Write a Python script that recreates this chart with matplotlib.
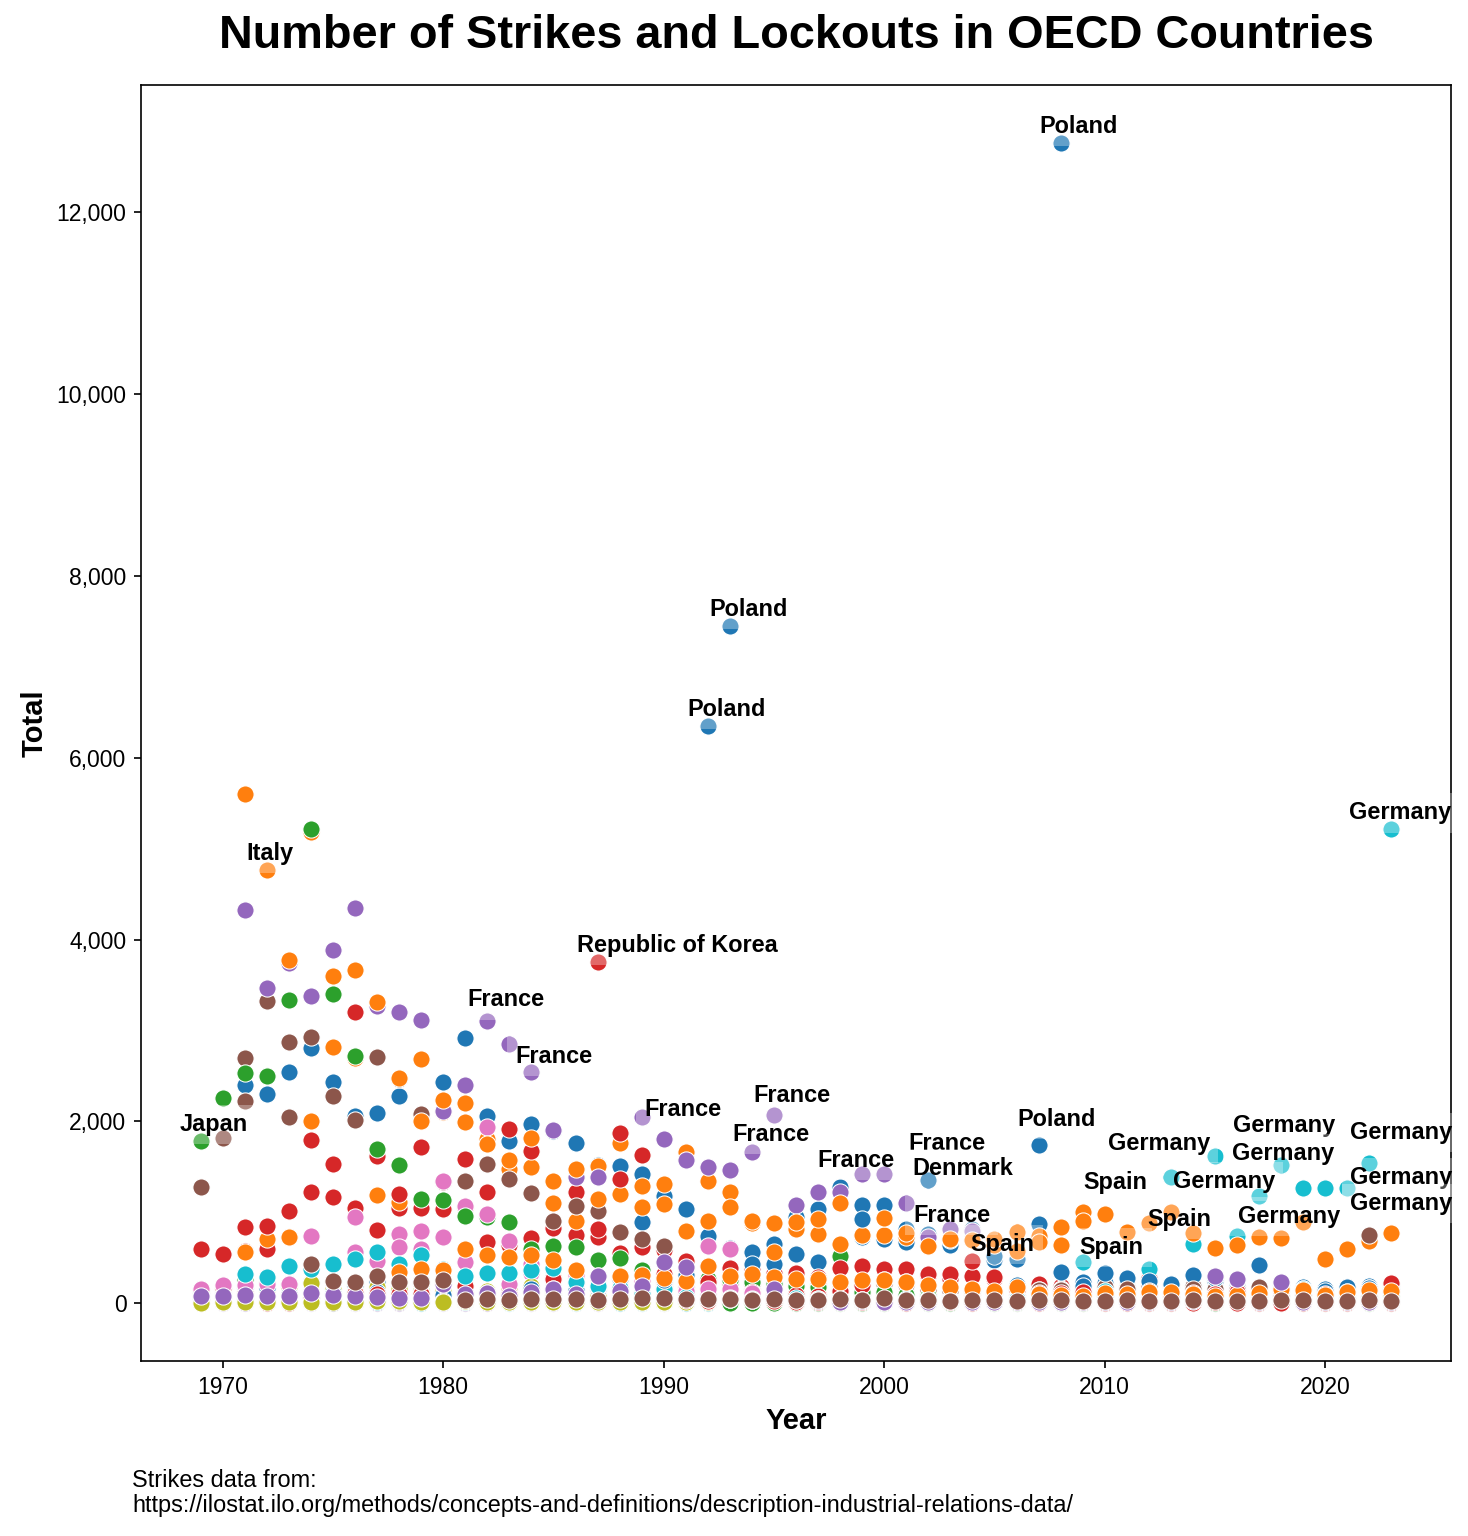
import matplotlib
matplotlib.use("Agg")
import matplotlib.pyplot as plt
from matplotlib.ticker import FuncFormatter

plt.rcParams["font.family"] = ["Liberation Sans", "DejaVu Sans"]

# (first year, yearly number of strikes and lockouts), drawn in this order
australia = (1971, [2400, 2300, 2540, 2810, 2430, 2055, 2090, 2280, 2040, 2430,
                    2915, 2060, 1785, 1965, 1895, 1760, 1520, 1510, 1420, 1180,
                    1040, 735, 610, 560, 645, 545, 450, 520, 730, 700,
                    675, 765, 640, 690, 470, 200, 135, 180, 235, 225,
                    190, 200, 205, 185, 240, 185, 155, 160, 180, 155,
                    175, 185, 190])
austria = (1969, [20, 10, 15, 8, 12, 10, 6, 4, 5, 3, 2, 8, 4, 3, 6, 2, 3, 4, 2, 1,
                  3, 2, 1, 2, 0, 1, 0, 2, 1, 0, 0, 1, 2, 1, 3, 0, 1, 2, 0, 1,
                  0, 0, 1, 2, 0, 1, 0, 0, 2, 1, 0, 3, 1, 2, 1])
belgium = (1969, [160, 150, 250, 230, 210, 230, 245, 210, 240, 190,
                  215, 125, 120, 110, 95, 120, 85, 100, 90, 80,
                  75, 70, 60, 65, 55, 50, 45, 40, 60, 520,
                  50, 45, 40, 35, 30, 30, 28, 25, 30, 35,
                  30, 25, 20, 18, 25, 20, 22, 18, 15, 12,
                  10, 15, 14, 12, 16])
canada = (1969, [595, 540, 570, 595, 725, 1220, 1170, 1045, 800, 1050,
                 1050, 1030, 1050, 670, 640, 715, 825, 750, 725, 550,
                 620, 580, 465, 405, 385, 375, 330, 330, 285, 385,
                 410, 375, 380, 295, 265, 300, 260, 150, 205, 185,
                 160, 175, 150, 280, 175, 155, 125, 130, 160, 140,
                 140, 90, 150, 165, 215])
switzerland = (1969, [2, 3, 1, 2, 4, 1, 6, 3, 2, 1, 4, 5, 1, 2, 3, 0, 1, 2, 0, 3,
                      1, 2, 3, 1, 0, 2, 2, 1, 3, 0, 2, 4, 1, 3, 2, 4, 1, 2, 0, 3,
                      2, 1, 0, 2, 1, 3, 2, 1, 0, 1, 2, 1, 3, 2, 1])
chile = (1969, [1275, 1815, 2695, 3325, 2045] + [None] * 16 +
         [176, 224, 247, 224, 196, 187, 183, 179, 121, 108,
          125, 86, 104, 92, 125, 101, 134, 149, 159, 171,
          176, 177, 186, 199, 190, 150, 160, 180, 170, 140,
          110, 130, 150, 160])
colombia = (1985, [60, 55, 70, 85, 70, 75, 100, 95, 80, 60,
                   55, 50, 40, 45, 40, 35, 30, 35, 40, 45,
                   50, 55, 60, 70, 80, 75, 70, 65, 60, 55,
                   60, 65, 70, 60, 55, 50, 40, 45, 50])
costa_rica = (1990, [5, 3, 8, 2, 4, 1, 3, 2, 5, 1, 0, 2, 3, 1, 4, 2, 1, 0, 3, 2,
                     1, 5, 2, 0, 1, 3, 2, 1, 0, 2, 4, 1, 2, 3])
czechia = (1993, [1, 0, 2, 0, 1, 0, 3, 1, 0, 2, 1, 0, 0, 1, 2, 0, 1, 0, 1, 0,
                  2, 1, 0, 0, 1, 0, 2, 1, 0, 1, 0])
germany = (2008, [90, 455, 130, 160, 375, 1385, 650, 1617, 740, 1175,
                  1520, 1265, 1265, 1265, 1540, 5220])
denmark = (1969, [50, 110, 60, 80, 210, 230, 100, 190, 230, 120,
                  240, 220, 90, 120, 85, 360, 240, 210, 140, 270,
                  895, 220, 260, 230, 250, 250, 430, 945, 1035, 1275,
                  1080, 1080, 820, 1350, 690, 815, 520, 480, 870, 340,
                  190, 330, 280, 240, 215, 310, 280, 250, 420, 200,
                  150, 130, 175, 170, 150])
spain = (1971, [560, 700, 725, 2000, 2815, 3662, 1190, 1110, 2680, 2100,
                1990, 1800, 1475, 1500, 1100, 905, 1505, 1200, 1055, 1310,
                1660, 1340, 1220, 880, 880, 815, 760, 650, 750, 750,
                725, 630, 700, 695, 640, 780, 740, 835, 1000, 985,
                780, 880, 1000, 770, 610, 640, 730, 720, 890, 480,
                600, 680, 770])
estonia = (1995, [2, 0, 1, 0, 0, 1, 0, 0, 2, 1, 0, 0, 1, 0, 0, 0, 1, 0, 0, 2,
                  0, 1, 0, 0, 1, 0, 0, 1, 0])
finland = (1969, [5, 10, 835, 850, 1010, 1790, 1530, 3200, 1620, 1200,
                  1715, 1040, 1590, 1220, 1920, 1675, 290, 1225, 815, 1365,
                  300, 190, 180, 170, 120, 150, 100, 110, 95, 80,
                  85, 90, 80, 95, 70, 85, 100, 90, 105, 140,
                  110, 95, 120, 100, 75, 90, 80, 60, 70, 85,
                  90, 40, 60, 80, 120])
france = (1971, [4320, 3470, 3740, 3380, 3885, 4345, 3270, 3200, 3115, 2110,
                 2400, 3100, 2850, 2540, 1900, 1385, 1385, 1875, 2045, 1810,
                 1575, 1495, 1465, 1660, 2065, 1075, 1225, 1225, 1420, 1420,
                 1100, 725, 815, 790])
united_kingdom = (1971, [2225, 2500, 2870, 2925, 2280, 2015, 2705, 2470, 2080, 1330,
                         1340, 1530, 1365, 1210, 900, 1070, 1010, 780, 700, 630,
                         370, 255, 210, 205, 235, 245, 215, 165, 205, 210,
                         195, 145, 135, 130, 115, 160, 140, 145, 100, 90,
                         150, 130, 115, 155, 105, 100, 80, 80, 90, 60,
                         85, 750, 120])
greece = (1976, [950, 300, 760, 790, 1340, 1070, 1935, 680, 330, 250,
                 220, 200, 300, 240, 230, 180, 630, 595, 120, 100,
                 60, 40, 30])
hungary = (1990, [10, 5, 8, 3, 2, 4, 1, 6, 3, 2, 1, 0, 2, 1, 0, 3, 1, 2, 0, 1,
                  0, 1, 2, 0, 1, 0, 0, 1, 2, 0, 1, 0, 1, 0])
ireland = (1969, [135, 135, 135, 130, 180, 220, 150, 135, 175, 150,
                  140, 130, 125, 130, 155, 190, 115, 100, 80, 65,
                  40, 50, 40, 40, 45, 30, 35, 35, 35, 30,
                  30, 40, 25, 25, 20, 15, 10, 10, 10, 10,
                  5, 10, 10, 5, 10, 10, 10, 15, 10, 10,
                  10, 5, 10, 10, 10])
iceland = (1975, [10, 15, 8, 20, 5, 12, 6, 18, 3, 10, 8, 5, 9, 4, 2, 6, 3, 1, 5, 2,
                  8, 3, 1, 0, 4, 2, 1, 3, 0, 2, 1, 0, 1, 3, 2, 1, 0, 2, 4, 1,
                  0, 1, 2, 3, 1, 0, 2, 1, 0])
israel = (1969, [115, 160, 170, 170, 95, 70, 115, 125, 125, 85,
                 115, 85, 90, 115, 100, 150, 130, 140, 160, 155,
                 125, 40, 60, 50, 50, 60, 70, 60, 60, 65,
                 55, 55, 50, 45, 35, 30, 30, 25, 30, 30,
                 25, 20, 30, 25, 30, 35, 25, 20, 25, 30,
                 20, 15, 20, 25, 30])
italy = (1971, [5600, 4760, 3770, 5180, 3600, 2700, 3310, 2475, 2000, 2235,
                2200, 1750, 1570, 1815, 1340, 1475, 1145, 1760, 1290, 1090,
                790, 900, 1055, 900, 560, 890, 925, 1100, 750, 935,
                770, 630, 700, 695, 700, 575, 670, 640, 900])
japan = (1969, [1780, 2260, 2530, 2500, 3330, 5215, 3400, 2720, 1700, 1515,
                1150, 1135, 960, 945, 890, 595, 625, 620, 475, 500,
                360, 285, 310, 260, 250, 230, 210, 190, 180, 145,
                120, 118, 90, 74, 47, 51, 50, 46, 54, 52,
                48, 38, 28, 38, 31, 27, 39, 31, 38, 26,
                49, 57, 55, 65, 75])
korea = (1969, [70, 165, 110, 0, 0, 60, 50, 110, 100, 100,
                105, 205, 185, 90, 100, 115, 265, 275, 3750, 1875,
                1630, 320, 235, 235, 145, 120, 90, 85, 80, 130,
                200, 250, 235, 320, 320, 465, 290, 140, 115, 110,
                120, 85, 65, 105, 72, 110, 105, 120, 100, 135,
                140, 105, 120, 130, 225])
lithuania = (1995, [5, 10, 0, 1, 0, 0, 2, 1, 0, 0, 1, 2, 0, 1, 0, 0, 0, 1, 0, 0,
                    1, 2, 0, 0, 1, 0, 0, 1, 0])
latvia = (1995, [0, 1, 0, 0, 2, 0, 0, 1, 0, 0, 0, 1, 0, 0, 0, 1, 0, 0, 0, 0,
                 1, 0, 0, 0, 1, 0, 0, 0, 0])
mexico = (1969, [150, 200, 200, 210, 210, 740, 235, 560, 460, 615,
                 600, 725, 450, 980, 215, 430, 160, 310, 175, 130,
                 120, 150, 135, 155, 155, 115, 95, 50, 40, 35,
                 30, 25, 35, 45, 45, 40, 50, 55, 30, 20,
                 20, 10, 15, 20, 20, 15, 5, 10, 10, 15,
                 20, 10, 5, 10, 15])
netherlands = (1969, [40, 60, 40, 30, 20, 15, 5, 20, 35, 15,
                      20, 25, 25, 20, 15, 25, 20, 15, 20, 20,
                      15, 25, 20, 20, 15, 20, 15, 20, 15, 10,
                      20, 20, 15, 25, 15, 20, 20, 25, 20, 25,
                      25, 20, 15, 25, 20, 30, 25, 20, 15, 20,
                      25, 20, 15, 30, 35])
norway = (1969, [5, 10, 8, 6, 10, 15, 12, 9, 20, 18,
                 15, 10, 20, 10, 15, 12, 8, 15, 10, 12,
                 6, 15, 10, 8, 10, 5, 12, 8, 10, 4,
                 6, 10, 8, 5, 12, 3, 6, 5, 8, 10,
                 4, 8, 6, 9, 7, 5, 6, 4, 5, 6,
                 4, 3, 5, 6, 4])
new_zealand = (1971, [320, 285, 410, 380, 430, 485, 560, 430, 530, 375,
                      300, 330, 330, 365, 385, 230, 190, 170, 100, 150,
                      70, 50, 60, 45, 70, 55, 50, 40, 35, 40,
                      45, 40, 35, 35, 50, 45, 25, 30, 20, 10,
                      15, 20, 15, 10, 15, 20, 25, 30, 150, 30,
                      20, 25, 30])
poland = (1990, [250, 305, 6350, 7445, 430, 40, 20, 35, 35, 920,
                 45, 10, 1, 5, 5, 5, 10, 1735, 12765, 20,
                 80, 35, 25, 10, 10, 5, 10, 15, 10, 15,
                 10, 5, 10, 20])
portugal = (1978, [340, 375, 360, 600, 530, 505, 530, 475, 365, 300,
                   300, 310, 275, 240, 410, 300, 320, 285, 265, 265,
                   230, 255, 250, 230, 200, 175, 155, 130, 175, 100,
                   90, 80, 110, 100, 120, 120, 100, 80, 90, 110,
                   150, 140, 90, 120, 140, 130])
slovakia = (1993, [0, 1, 0, 0, 2, 0, 0, 1, 0, 0, 0, 1, 0, 0, 1, 0, 0, 0, 1, 0,
                   0, 0, 0, 1, 0, 0, 0, 0, 0, 1, 0])
slovenia = (1991, [30, 25, 40, 35, 20, 15, 10, 12, 8, 10, 5, 8, 6, 4, 10, 7, 5, 9, 6, 3,
                   4, 5, 3, 2, 6, 4, 3, 5, 2, 4, 3, 6, 5])
sweden = (1969, [80, 80, 90, 80, 80, 110, 90, 80, 70, 60,
                 60, 210, 100, 110, 80, 120, 160, 100, 300, 130,
                 190, 450, 395, 50, 40, 35, 155, 30, 20, 15,
                 25, 10, 10, 15, 20, 15, 10, 12, 14, 10,
                 8, 10, 12, 6, 15, 20, 300, 265, 15, 230,
                 10, 12, 8, 10, 15])
turkey = (1974, [430, 240, 230, 300, 230, 230, 250,
                 30, 40, 35, 45, 50, 40, 30, 45, 60, 55,
                 40, 45, 40, 35, 40, 38, 37, 44, 34, 52,
                 35, 28, 23, 34, 36, 25, 31, 30, 20, 25,
                 28, 20, 25, 30, 25, 20, 25, 30, 35, 20,
                 25, 30, 20])

countries = [australia, austria, belgium, canada, switzerland, chile, colombia,
             costa_rica, czechia, germany, denmark, spain, estonia, finland,
             france, united_kingdom, greece, hungary, ireland, iceland, israel,
             italy, japan, korea, lithuania, latvia, mexico, netherlands, norway,
             new_zealand, poland, portugal, slovakia, slovenia, sweden, turkey]

# labelled outliers: text, series, year
label_names = ["Poland", "Poland", "Poland", "Germany", "Italy", "Republic of Korea",
               "France", "France", "Japan", "France", "France", "France", "France",
               "France", "Denmark", "France", "Poland", "Germany", "Germany",
               "Germany", "Germany", "Germany", "Germany", "Germany", "Germany",
               "Spain", "Spain", "Spain", "Spain"]
label_series = [poland, poland, poland, germany, italy, korea,
                france, france, japan, france, france, france, france,
                france, denmark, france, poland, germany, germany,
                germany, germany, germany, germany, germany, germany,
                spain, spain, spain, spain]
label_years = [2008, 1993, 1992, 2023, 1972, 1987,
               1982, 1984, 1969, 1989, 1995, 1994, 1999,
               2000, 2002, 2003, 2007, 2013, 2017,
               2015, 2018, 2016, 2022, 2021, 2020,
               2009, 2013, 2011, 2005]
label_offsets = [(-10, 5), (-10, 5), (-10, 5), (-20.6, 4.5), (-10, 5), (-10, 5),
                 (-9.6, 7.2), (-7.8, 4.4), (-10, 5), (1.2, 0.5), (-10.1, 6.4), (-9.6, 5.3), (-21.3, 3.3),
                 (11.8, 11.5), (-7.5, 2.5), (-18, 3.3), (-10, 9.3), (-30.3, 13), (-41.5, 3.9),
                 (8.5, 11.5), (-23.8, 2.3), (0.3, 6.1), (-9.2, 11.5), (1.4, 1.9), (12, -10.6),
                 (0.4, 11.1), (-11.1, -6.7), (-22.8, -10.5), (-11.5, -3)]

fig = plt.figure(figsize=(1468 / 150, 1536 / 150), dpi=150)
ax = fig.add_axes([0.0961, 0.1139, 0.8923, 0.8308])

for start, values in countries:
    yrs = [start + i for i, v in enumerate(values) if v is not None]
    vals = [v for v in values if v is not None]
    ax.scatter(yrs, vals, s=68, edgecolors="white", linewidths=0.5)

for name, series, year, off in zip(label_names, label_series, label_years, label_offsets):
    start, values = series
    ax.annotate(name, (year, values[year - start]), xytext=off,
                textcoords="offset points", fontsize=11.3, fontweight="bold",
                bbox=dict(facecolor="white", alpha=0.3, edgecolor="none"))

ax.set_title("Number of Strikes and Lockouts in OECD Countries",
             fontsize=22.5, fontweight="bold", pad=17.5)
ax.set_xlabel("Year", fontsize=14, fontweight="bold")
ax.set_ylabel("Total", fontsize=14, fontweight="bold")
ax.yaxis.set_major_formatter(FuncFormatter(lambda v, p: f"{int(v):,}"))
ax.tick_params(labelsize=11)

fig.text(0.09, 0.0124, "Strikes data from:\nhttps://ilostat.ilo.org/methods/concepts-and-definitions/description-industrial-relations-data/",
         fontsize=11.25, va="bottom", ha="left", linespacing=1.1)

fig.savefig("out.png", dpi=150)
